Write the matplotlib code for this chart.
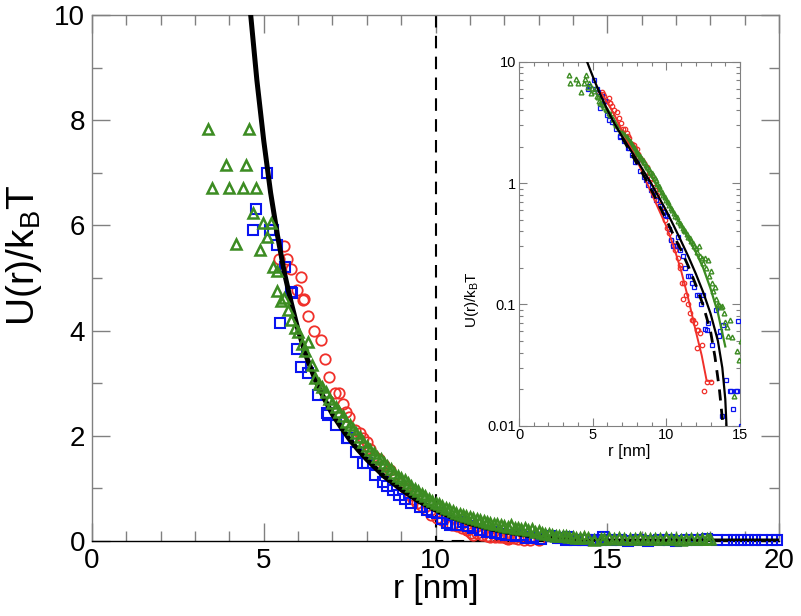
import matplotlib
matplotlib.use("Agg")
import matplotlib.pyplot as plt
import numpy as np
from matplotlib.ticker import MultipleLocator, FixedLocator, LogLocator, NullFormatter

plt.rcParams['font.family'] = ['Liberation Sans', 'DejaVu Sans']
plt.rcParams['mathtext.default'] = 'regular'

# ---------------- data ----------------
theory_r = [4.62, 4.8, 5.0, 5.2, 5.4, 5.6, 5.8, 6.0, 6.25, 6.5, 6.75, 7.0, 7.25, 7.5, 7.75,
            8.0, 8.5, 9.0, 9.5, 10.0, 10.5, 11.0, 11.5, 12.0, 12.5, 13.0, 13.5, 13.8, 14.0,
            14.15, 14.25, 20.0]
theory_U = [10.0, 8.76, 7.61, 6.62, 5.81, 5.10, 4.53, 4.01, 3.49, 3.06, 2.72, 2.41, 2.16, 1.93, 1.73,
            1.55, 1.23, 0.98, 0.76, 0.59, 0.445, 0.333, 0.247, 0.179, 0.126, 0.084, 0.05, 0.03, 0.0166,
            0.0067, 0.0, 0.0]

dashed_r = [7.0, 7.5, 8.0, 8.5, 9.0, 9.5, 10.0, 10.5, 11.0, 11.5, 12.0, 12.5, 13.0, 13.3, 13.6, 13.85, 13.95]
dashed_U = [2.36, 1.85, 1.45, 1.13, 0.87, 0.66, 0.5, 0.37, 0.28, 0.205, 0.145, 0.098, 0.06, 0.037, 0.02, 0.01, 0.005]

red_line_r = [5.6, 6.0, 6.5, 7.0, 7.5, 8.0, 8.5, 9.0, 9.5, 10.0, 10.5, 11.0, 11.5, 12.0, 12.4, 12.74, 13.08]
red_line_U = [5.5, 4.6, 3.6, 2.7, 2.05, 1.55, 1.12, 0.82, 0.6, 0.44, 0.3, 0.19, 0.11, 0.06, 0.038, 0.0234, 0.0234]

green_line_r = [7.0, 7.5, 8.0, 8.5, 9.0, 9.5, 10.0, 10.5, 11.0, 11.5, 12.0, 12.5, 13.0, 13.5, 14.0]
green_line_U = [2.65, 2.2, 1.75, 1.4, 1.12, 0.9, 0.72, 0.57, 0.45, 0.35, 0.27, 0.2, 0.135, 0.085, 0.045]

red_r = [5.45, 5.6, 5.69, 5.79, 5.98, 6.08, 6.15, 6.18, 6.29, 6.45, 6.66, 6.79, 6.89, 7.08, 7.2,
         7.32, 7.4, 7.49, 7.66, 7.8, 7.9, 8.0, 8.1, 8.2, 8.35, 8.5, 8.68, 8.8, 8.95, 9.1,
         9.26, 9.35, 9.45, 9.6, 9.74, 9.88, 10.03, 10.18, 10.33, 10.48, 10.62, 10.7, 10.78, 10.91, 10.93,
         11.04, 11.1, 11.2, 11.35, 11.5, 11.6, 11.72, 11.84, 11.95, 12.06, 12.1, 12.17, 12.29, 12.4, 12.57,
         12.75, 13.0]
red_U = [5.37, 5.6, 5.37, 5.18, 4.78, 5.02, 4.58, 4.61, 4.28, 4.0, 3.83, 3.46, 3.12, 2.81, 2.81,
         2.6, 2.45, 2.36, 2.11, 2.05, 1.95, 1.89, 1.75, 1.62, 1.55, 1.45, 1.35, 1.22, 1.1, 1.0,
         0.87, 0.8, 0.72, 0.66, 0.59, 0.5, 0.43, 0.39, 0.34, 0.31, 0.28, 0.31, 0.24, 0.21, 0.2,
         0.15, 0.11, 0.15, 0.12, 0.1, 0.085, 0.074, 0.074, 0.07, 0.062, 0.044, 0.062, 0.058, 0.046, 0.0194,
         0.023, 0.023]

blue_r = [4.68, 4.78, 5.09, 5.17, 5.28, 5.38, 5.47, 5.61, 5.8, 5.82, 5.98, 6.08, 6.3, 6.59, 6.83,
          6.88, 7.1, 7.41, 7.46, 7.7, 7.9, 8.0, 8.24, 8.48, 8.6, 8.77, 8.95, 9.1, 9.3, 9.55,
          9.75, 9.9, 10.03, 10.2, 10.33, 10.42, 10.6, 10.8, 10.95, 11.1, 11.3, 11.5, 11.61, 11.72, 11.9,
          12.06, 12.2, 12.35, 12.5, 12.63, 12.79, 12.85, 13.08, 13.35, 13.58, 13.65, 13.8, 13.87, 14.05, 14.3,
          14.39, 14.55, 14.7, 14.82, 14.89, 15.1, 15.4, 15.6, 15.9, 16.2, 16.5, 16.8, 17.0, 17.3, 17.6,
          17.9, 18.2, 18.5, 18.7, 18.9, 19.1, 19.3, 19.5, 19.8, 19.95]
blue_U = [5.91, 6.31, 7.0, 5.91, 5.91, 5.62, 4.15, 5.21, 4.74, 4.72, 3.65, 3.30, 3.2, 2.78, 2.43,
          2.4, 2.2, 1.95, 1.95, 1.7, 1.48, 1.48, 1.25, 1.13, 1.05, 0.97, 0.88, 0.8, 0.72, 0.65,
          0.58, 0.55, 0.53, 0.42, 0.34, 0.3, 0.3, 0.36, 0.28, 0.25, 0.2, 0.17, 0.17, 0.15, 0.14,
          0.12, 0.12, 0.1, 0.12, 0.063, 0.061, 0.07, 0.046, 0.09, 0.055, 0.06, 0.012, 0.068, 0.024, 0.0193,
          0.0194, 0.0136, 0.0193, 0.0194, 0.073, 0.01, 0.02, 0.0, 0.015, 0.0, 0.02, 0.01, 0.0, 0.02, 0.01,
          0.03, 0.02, 0.02, 0.015, 0.02, 0.02, 0.01, 0.02, 0.02, 0.02]

green_r = [3.39, 4.58, 3.89, 4.48, 3.48, 3.99, 4.39, 4.78, 4.69, 4.98, 5.20, 5.09, 4.19, 4.88, 5.28, 5.38,
           5.4, 5.5, 5.6, 5.7, 5.8, 5.9, 6.0, 6.1, 6.2, 6.3, 6.4, 6.5, 6.6, 6.7, 6.8, 6.9,
           7.0, 7.1, 7.2, 7.3, 7.4, 7.5, 7.6, 7.7, 7.8, 7.9, 8.0, 8.1, 8.2, 8.3, 8.4, 8.5,
           8.6, 8.7, 8.8, 8.9, 9.0, 9.1, 9.2, 9.3, 9.4, 9.5, 9.6, 9.7, 9.8, 9.9, 10.0, 10.1,
           10.2, 10.3, 10.4, 10.5, 10.6, 10.7, 10.8, 10.9, 11.0, 11.1, 11.2, 11.3, 11.4, 11.5, 11.6, 11.7,
           11.8, 11.9, 12.0, 12.1, 12.2, 12.3, 12.4, 12.5, 12.6, 12.7, 12.8, 12.9, 13.0, 13.1, 13.2, 13.3,
           13.4, 13.5, 13.6, 13.7, 13.8, 13.9, 14.0, 14.1, 14.2, 14.32, 14.44, 14.6, 14.82, 14.9,
           15.05, 15.2, 15.35, 15.5, 15.65, 15.8, 15.95, 16.1, 16.25, 16.4, 16.55, 16.7, 16.85, 17.0,
           17.15, 17.3, 17.45, 17.6, 17.75, 17.9, 18.0]
green_U = [7.83, 7.83, 7.14, 7.14, 6.72, 6.72, 6.72, 6.72, 6.23, 6.05, 6.05, 5.77, 5.65, 5.54, 5.21, 5.13,
           4.75, 4.57, 4.62, 4.39, 4.2, 4.05, 3.98, 3.75, 3.62, 3.79, 3.35, 3.1, 2.98, 2.93, 2.84, 2.7,
           2.62, 2.55, 2.45, 2.38, 2.27, 2.2, 2.12, 2.05, 1.98, 1.88, 1.8, 1.73, 1.67, 1.6, 1.55, 1.48,
           1.42, 1.36, 1.3, 1.24, 1.2, 1.16, 1.1, 1.05, 0.99, 0.95, 0.9, 0.85, 0.8, 0.76, 0.73, 0.7,
           0.66, 0.62, 0.6, 0.57, 0.54, 0.52, 0.49, 0.47, 0.45, 0.43, 0.41, 0.4, 0.38, 0.36, 0.35, 0.33,
           0.32, 0.3, 0.29, 0.27, 0.3, 0.25, 0.24, 0.22, 0.24, 0.2, 0.23, 0.17, 0.19, 0.15, 0.13, 0.14,
           0.11, 0.1, 0.098, 0.095, 0.097, 0.085, 0.071, 0.065, 0.055, 0.074, 0.054, 0.0176, 0.041, 0.035,
           0.05, 0.04, 0.06, 0.035, 0.045, 0.03, 0.05, 0.04, 0.03, 0.045, 0.035, 0.05, 0.03, 0.04,
           0.025, 0.045, 0.03, 0.04, 0.035, 0.03, 0.04]

RED = '#f0302a'
BLUE = '#0a14f0'
GREEN = '#3c8c22'
SPINE = '#808080'

fig = plt.figure(figsize=(8.01, 6.16), dpi=100)
ax = fig.add_axes([92/801, 1-541/616, 687/801, 526/616])

ax.plot(red_r, red_U, linestyle='none', marker='o', ms=7.5, mfc='none', mec=RED, mew=1.3, zorder=3, clip_on=False)
ax.plot(blue_r, blue_U, linestyle='none', marker='s', ms=6.8, mfc='none', mec=BLUE, mew=1.5, zorder=3, clip_on=False)
ax.plot(theory_r, theory_U, color='black', lw=3.6, zorder=4)
ax.plot(green_r, green_U, linestyle='none', marker='^', ms=7.0, mfc='none', mec=GREEN, mew=1.8, zorder=5, clip_on=False)
ax.plot([10, 10, 20], [10, 0, 0], color='black', lw=1.5, dashes=(6, 4), zorder=2)

ax.set_xlim(0, 20)
ax.set_ylim(0, 10)
ax.xaxis.set_major_locator(MultipleLocator(5))
ax.xaxis.set_minor_locator(MultipleLocator(1))
ax.yaxis.set_major_locator(MultipleLocator(2))
ax.yaxis.set_minor_locator(MultipleLocator(1))
ax.tick_params(which='both', direction='in', top=True, right=True, color=SPINE, width=1.0)
ax.tick_params(which='major', length=13, labelsize=20, pad=5)
ax.tick_params(which='minor', length=7)
for s in ax.spines.values():
    s.set_color(SPINE)
    s.set_linewidth(1.0)
ax.spines['bottom'].set_color('black')
ax.set_xlabel('r [nm]', fontsize=24, labelpad=0)
ax.set_ylabel('U(r)/k$_B$T', fontsize=28)
ax.yaxis.set_label_coords(-0.07, (541 - 255) / 526)

# ---------------- inset ----------------
ins = fig.add_axes([519/801, 1-425.7/616, 221/801, 364/616])
ins.set_yscale('log')

def pos(rs, us):
    rr = [a for a, b in zip(rs, us) if b > 0]
    uu = [b for b in us if b > 0]
    return rr, uu

rr, uu = pos(red_r, red_U)
ins.plot(rr, uu, linestyle='none', marker='o', ms=3.2, mfc='none', mec=RED, mew=0.9, zorder=3)
rr, uu = pos(blue_r, blue_U)
ins.plot(rr, uu, linestyle='none', marker='s', ms=3.0, mfc='none', mec=BLUE, mew=0.9, zorder=3)
rr, uu = pos(green_r, green_U)
ins.plot(rr, uu, linestyle='none', marker='^', ms=3.4, mfc='none', mec=GREEN, mew=1.0, zorder=3)
ins.plot(red_line_r, red_line_U, color=RED, lw=1.4, zorder=4)
ins.plot(green_line_r, green_line_U, color=GREEN, lw=1.6, zorder=4)
rr, uu = pos(theory_r, theory_U)
ins.plot(rr, uu, color='black', lw=1.6, zorder=5)
ins.plot(dashed_r, dashed_U, color='black', lw=2.0, dashes=(4, 3), zorder=5)

ins.set_xlim(0, 15)
ins.set_ylim(0.01, 10)
ins.xaxis.set_major_locator(MultipleLocator(5))
ins.xaxis.set_minor_locator(MultipleLocator(1))
ins.yaxis.set_major_locator(FixedLocator([0.01, 0.1, 1, 10]))
ins.set_yticklabels(['0.01', '0.1', '1', '10'])
ins.yaxis.set_minor_locator(LogLocator(base=10, subs=np.arange(2, 10)))
ins.yaxis.set_minor_formatter(NullFormatter())
ins.tick_params(which='both', direction='in', top=True, right=True, color=SPINE, width=0.8)
ins.tick_params(which='major', length=6, labelsize=10.5, pad=2)
ins.tick_params(which='minor', length=3)
for s in ins.spines.values():
    s.set_color(SPINE)
    s.set_linewidth(0.8)
ins.set_xlabel('r [nm]', fontsize=12, labelpad=1)
ins.set_ylabel('U(r)/k$_B$T', fontsize=11)
ins.yaxis.set_label_coords(-0.17, (425.7 - 300) / 364)

fig.savefig('out.png', dpi=100)
